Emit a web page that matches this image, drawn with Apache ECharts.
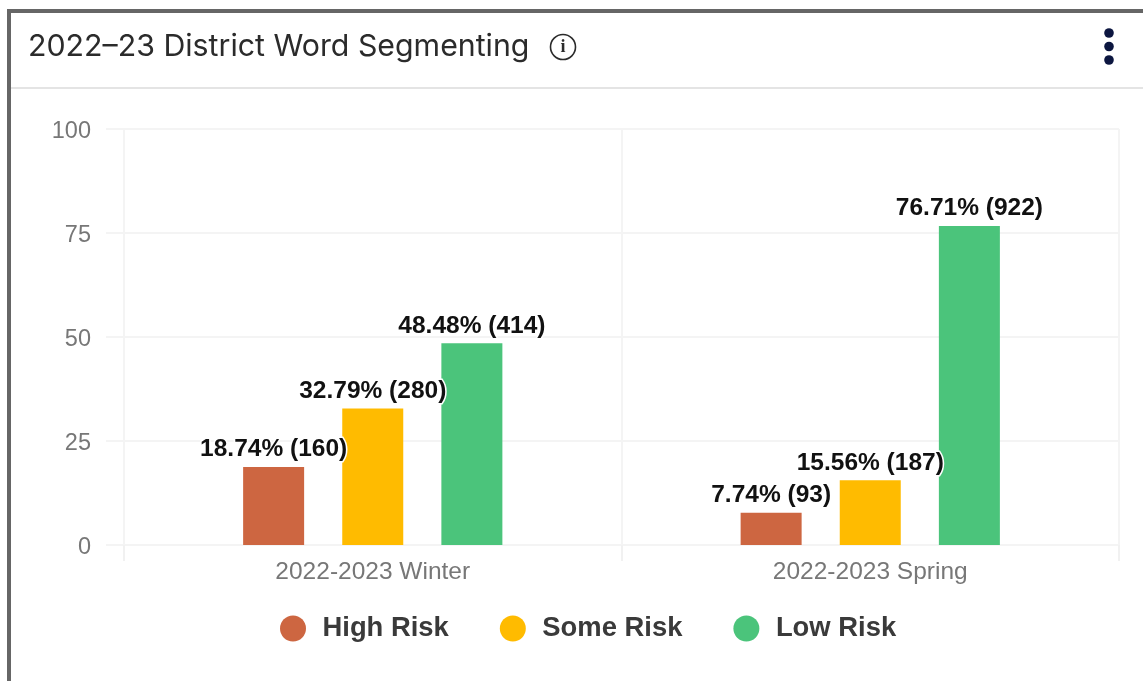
<!DOCTYPE html>
<html>
<head>
<meta charset="utf-8">
<title>2022-23 District Word Segmenting</title>
<script src="https://cdn.jsdelivr.net/npm/echarts@6/dist/echarts.min.js"></script>
<style>
  html, body { margin: 0; padding: 0; background: #fff; }
  #chart { width: 1143px; height: 681px; }
</style>
</head>
<body>
<div id="chart"></div>
<script>
var categories = ['2022-2023 Winter', '2022-2023 Spring'];
var highRisk = [18.74, 7.74];
var someRisk = [32.79, 15.56];
var lowRisk = [48.48, 76.71];
var highCounts = [160, 93];
var someCounts = [280, 187];
var lowCounts = [414, 922];
var yTicks = [0, 25, 50, 75, 100];

var chart = echarts.init(document.getElementById('chart'));

function makeSeries(name, color, values, counts) {
  return {
    name: name,
    type: 'bar',
    data: values,
    barWidth: 61,
    barGap: '62.5%',
    itemStyle: { color: color },
    label: {
      show: true,
      position: 'top',
      distance: 5,
      fontFamily: 'Liberation Sans',
      fontSize: 24.5,
      fontWeight: 'bold',
      color: '#111',
      textBorderColor: '#fff',
      textBorderWidth: 3,
      formatter: function (p) {
        return p.value.toFixed(2) + '% (' + counts[p.dataIndex] + ')';
      }
    }
  };
}

var option = {
  backgroundColor: '#fff',
  animation: false,
  title: {
    text: '2022\u201323 District Word Segmenting',
    left: 23,
    top: 27,
    textStyle: {
      fontFamily: 'Inter',
      fontSize: 30.3,
      fontWeight: 'normal',
      color: '#2b2b2b'
    }
  },
  grid: { left: 124, right: 24, top: 129, bottom: 136 },
  legend: {
    left: 275,
    top: 610,
    icon: 'circle',
    itemWidth: 27,
    itemHeight: 26,
    itemGap: 51,
    selectedMode: false,
    textStyle: {
      fontFamily: 'Liberation Sans',
      fontSize: 27.4,
      fontWeight: 'bold',
      color: '#3a3a3a',
      padding: [0, 0, 0, 11]
    }
  },
  xAxis: {
    type: 'category',
    data: categories,
    axisLine: { show: false },
    axisTick: { show: true, length: 16, lineStyle: { color: '#f1f1f1', width: 2 } },
    axisLabel: {
      fontFamily: 'Liberation Sans',
      fontSize: 24.5,
      color: '#777',
      margin: 15
    },
    splitLine: { show: true, lineStyle: { color: '#f4f4f4', width: 2 } }
  },
  yAxis: {
    type: 'value',
    min: 0,
    max: 100,
    interval: 25,
    axisLine: { show: false },
    axisTick: { show: true, length: 18, lineStyle: { color: '#f4f4f4', width: 2 } },
    axisLabel: {
      margin: 33,
      customValues: yTicks,
      formatter: '{a|{value}}',
      rich: {
        a: {
          fontFamily: 'Liberation Sans',
          fontSize: 23.5,
          color: '#777',
          padding: [6, 0, 0, 0]
        }
      }
    },
    splitLine: { show: true, lineStyle: { color: '#f4f4f4', width: 2 } }
  },
  series: [
    makeSeries('High Risk', '#cd6641', highRisk, highCounts),
    makeSeries('Some Risk', '#ffbb00', someRisk, someCounts),
    makeSeries('Low Risk', '#4bc47b', lowRisk, lowCounts)
  ],
  graphic: [
    // card frame
    { type: 'rect', silent: true, shape: { x: 7, y: 9, width: 1140, height: 4 }, style: { fill: '#666' } },
    { type: 'rect', silent: true, shape: { x: 7, y: 9, width: 4, height: 680 }, style: { fill: '#666' } },
    // header rule
    { type: 'rect', silent: true, shape: { x: 11, y: 87, width: 1132, height: 2 }, style: { fill: '#e4e4e4' } },
    // info icon
    { type: 'circle', silent: true, shape: { cx: 563, cy: 47, r: 12.5 }, style: { fill: '#fff', stroke: '#2b2b2b', lineWidth: 1.6 } },
    { type: 'text', silent: true, x: 563, y: 47, style: { text: 'i', fontFamily: 'Liberation Serif', fontWeight: 'bold', fontSize: 18, fill: '#2b2b2b', align: 'center', verticalAlign: 'middle' } },
    // menu dots
    { type: 'circle', silent: true, shape: { cx: 1109, cy: 33, r: 4.8 }, style: { fill: '#0c1640' } },
    { type: 'circle', silent: true, shape: { cx: 1109, cy: 46.5, r: 4.8 }, style: { fill: '#0c1640' } },
    { type: 'circle', silent: true, shape: { cx: 1109, cy: 60, r: 4.8 }, style: { fill: '#0c1640' } }
  ]
};
chart.setOption(option);
</script>
</body>
</html>
